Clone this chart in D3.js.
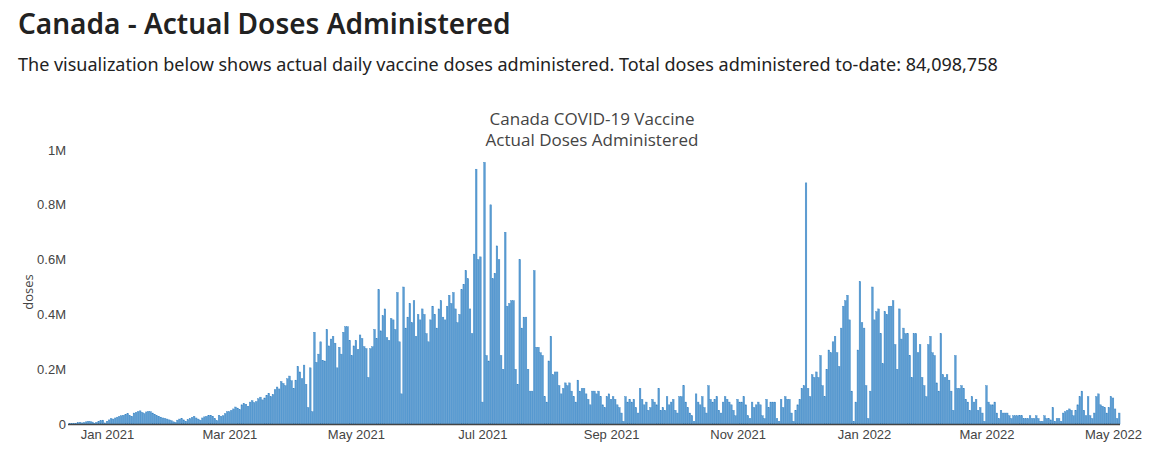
<!DOCTYPE html>
<html>
<head>
<meta charset="utf-8">
<script src="https://cdn.jsdelivr.net/npm/d3@7"></script>
<style>
  body { margin: 0; background: #fff; font-family: "Open Sans", "Noto Sans", sans-serif; }
  h1 { font-size: 28px; font-weight: 600; color: #222; margin: 4px 0 0 18px; font-family: "Noto Sans", sans-serif; }
  p.sub { font-size: 18px; color: #222; margin: 10px 0 0 18px; font-family: "Noto Sans", sans-serif; }
  #chart { position: absolute; left: 0; top: 95px; }
</style>
</head>
<body>
<h1>Canada - Actual Doses Administered</h1>
<p class="sub">The visualization below shows actual daily vaccine doses administered. Total doses administered to-date: 84,098,758</p>
<div id="chart"></div>
<script>
// 每日接种量（千剂），按月分组，首日 2020-12-14
const startDate = new Date(2020, 11, 14);
const dec2020 = [1,2,3,3,5,6,4,5,8,10,9,7,3,6,10,12,14,4];
const jan2021 = [10,15,20,18,22,25,28,30,32,35,38,30,28,40,42,45,48,42,38,44,46,45,40,35,30,28,25,22,20,18,15];
const feb2021 = [12,8,6,14,18,20,15,10,16,20,24,28,22,18,14,22,26,28,30,32,28,20,12,32,28,30,38,45];
const mar2021 = [45,50,55,62,58,52,70,75,72,65,80,85,78,82,92,98,88,95,105,112,100,108,125,135,128,155,148,140,165,175,158];
const apr2021 = [130,160,210,190,165,215,145,60,205,45,335,225,255,300,232,230,345,285,310,320,295,205,280,255,335,355,355,305,250,285];
const may2021 = [305,272,325,312,282,275,170,275,282,345,312,490,340,395,420,315,305,385,380,345,480,300,110,500,350,390,440,370,450,320,400];
const jun2021 = [380,420,400,330,300,380,430,400,350,420,450,390,380,430,470,440,480,420,370,400,490,510,560,530,420,330,620,930,600,610];
const jul2021 = [80,955,250,230,800,530,550,650,600,250,200,700,430,440,450,450,200,145,600,350,390,390,200,120,120,560,280,280,260,250,100];
const aug2021 = [80,230,320,180,190,190,140,110,130,150,140,150,120,100,80,160,120,130,130,110,90,70,120,120,110,120,100,70,60,100,110];
const sep2021 = [90,100,90,70,60,40,10,100,80,90,80,90,60,40,130,90,70,80,50,60,90,80,70,130,50,60,50,100,70,80];
const oct2021 = [90,50,40,100,100,140,80,60,40,30,10,110,80,70,100,60,40,140,90,80,90,100,50,40,80,100,90,80,70,50,30];
const nov2021 = [90,80,80,100,70,30,20,80,60,70,80,70,30,20,90,60,80,80,80,20,10,90,60,100,90,90,40,10,50,70,90];
const dec2021 = [130,140,880,130,100,180,170,190,170,250,140,100,200,270,260,300,320,260,210,350,430,450,470,380,120,10,80,270,520,370,350];
const jan2022 = [140,20,120,500,380,410,420,330,220,410,400,430,430,450,290,200,420,310,350,330,330,250,170,330,330,260,290,170,140,100,290];
const feb2022 = [320,260,250,150,120,330,180,170,180,160,120,50,250,130,130,140,130,90,80,50,100,80,90,50,60,40,10,140];
const mar2022 = [80,70,70,80,40,20,50,40,40,40,30,20,30,30,30,30,30,20,20,20,30,20,20,30,20,10,10,30,20,20,15];
const apr2022 = [60,10,20,20,10,40,45,50,55,50,30,50,70,100,120,50,30,100,30,20,40,100,110,70,65,60,40,60,100,95];
const may2022 = [55,20,40];

const months = [dec2020, jan2021, feb2021, mar2021, apr2021, may2021, jun2021, jul2021, aug2021,
  sep2021, oct2021, nov2021, dec2021, jan2022, feb2022, mar2022, apr2022, may2022];
const doses = months.flat().map((v, i) => ({
  date: d3.timeDay.offset(startDate, i),
  value: v * 1000
}));

const yTicks = [0, 200000, 400000, 600000, 800000, 1000000];
const yTickLabels = ['0', '0.2M', '0.4M', '0.6M', '0.8M', '1M'];
const xTicks = [new Date(2021, 0, 1), new Date(2021, 2, 1), new Date(2021, 4, 1), new Date(2021, 6, 1),
  new Date(2021, 8, 1), new Date(2021, 10, 1), new Date(2022, 0, 1), new Date(2022, 2, 1), new Date(2022, 4, 1)];

const width = 1160, height = 370;
const svg = d3.select('#chart').append('svg').attr('width', width).attr('height', height)
  .style('font-family', '"Open Sans", sans-serif');

const x = d3.scaleTime().domain([new Date(2021, 0, 1), new Date(2022, 4, 1)]).range([107, 1113]);
const y = d3.scaleLinear().domain([0, 1000000]).range([329, 55]);
const dayW = x(new Date(2021, 0, 2)) - x(new Date(2021, 0, 1));

// 网格标题
const title = svg.append('text').attr('x', 592).attr('text-anchor', 'middle')
  .attr('fill', '#444').style('font-size', '17px');
title.append('tspan').attr('x', 592).attr('y', 30).text('Canada COVID-19 Vaccine');
title.append('tspan').attr('x', 592).attr('y', 51).text('Actual Doses Administered');

// 柱
svg.append('g').selectAll('rect').data(doses).join('rect')
  .attr('x', d => x(d.date) - dayW * 0.4)
  .attr('width', dayW * 0.8)
  .attr('y', d => y(d.value))
  .attr('height', d => y(0) - y(d.value))
  .attr('fill', '#5b9cd2')
  .attr('stroke', '#3a85c4')
  .attr('stroke-width', 0.4);

// 轴
const yAxis = svg.append('g').attr('transform', 'translate(68,0)')
  .call(d3.axisLeft(y).tickValues(yTicks).tickFormat((d, i) => yTickLabels[i]).tickSize(0).tickPadding(2));
yAxis.select('.domain').remove();
yAxis.selectAll('text').attr('fill', '#444').style('font-size', '13px');

const xAxis = svg.append('g').attr('transform', `translate(0,${y(0)})`)
  .call(d3.axisBottom(x).tickValues(xTicks).tickFormat(d3.timeFormat('%b %Y')).tickSize(0).tickPadding(6));
xAxis.select('.domain').remove();
xAxis.selectAll('text').attr('fill', '#444').style('font-size', '13px');

svg.append('line').attr('x1', 68).attr('x2', 1120).attr('y1', y(0) + 0.5).attr('y2', y(0) + 0.5)
  .attr('stroke', '#444').attr('stroke-width', 1.5);

svg.append('text').attr('transform', `translate(33,${(y(0) + y(1000000)) / 2 + 5}) rotate(-90)`)
  .attr('text-anchor', 'middle').attr('fill', '#444').style('font-size', '13px').text('doses');
</script>
</body>
</html>
